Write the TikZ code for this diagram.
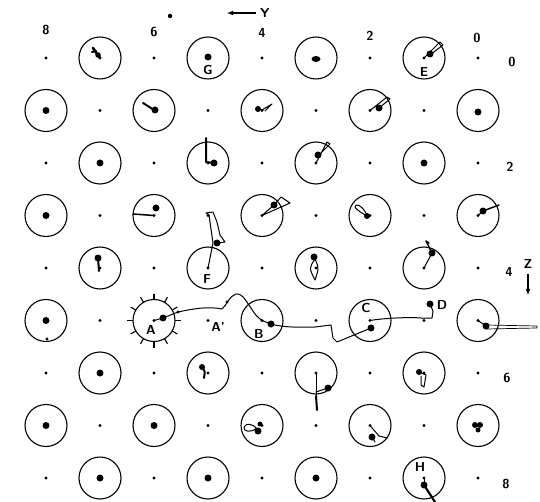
\documentclass[tikz,border=0pt]{standalone}
\usepackage{tikz}
\usetikzlibrary{arrows, positioning}
\tikzstyle{site} = [circle, draw, inner sep=0pt, minimum size=42pt, line width=1.1pt]
\tikzstyle{hole} = [circle, fill, inner sep=0pt, minimum size=3.4pt]
\tikzstyle{atom} = [circle, fill, inner sep=0pt, minimum size=7pt]
\tikzstyle{tag} = [font=\fontsize{13}{13}\selectfont\sffamily\bfseries, inner sep=0pt]
\tikzstyle{trail} = [line width=1pt, line join=round, line cap=round]
\tikzstyle{stroke} = [line width=2pt, line join=round, line cap=round]

\begin{document}
\begin{tikzpicture}
    [x=1pt, y=-1pt]
    \useasboundingbox (0,0) rectangle (540,502);

    %% Lattice
    \foreach \r in {0,...,8}
      \foreach \c in {0,...,8} {
        \pgfmathtruncatemacro{\kind}{mod(\r+\c,2)}
        \ifnum\kind=1
          \node [site] (s\r\c) at ({46+54*\c},{58+52.5*\r}) {};
          \fill (s\r\c.center) circle (1.6);
        \else
          \node [hole] (s\r\c) at ({46+54*\c},{58+52.5*\r}) {};
        \fi
      }

    %% Spikes round A
    \foreach \a in {0,30,...,330}
      \draw [line width=1.1pt] (s52.center) ++(\a:21) -- ++(\a:6);

    %% Axes
    \node [tag] (x8) at (46,30) {8};
    \node [tag] (x6) at (154,32) {6};
    \node [tag] (x4) at (262,33) {4};
    \node [tag] (x2) at (370,36) {2};
    \node [tag] (x0) at (477,38) {0};
    \node [tag] (y0) at (512,62) {0};
    \node [tag] (y2) at (510,167) {2};
    \node [tag] (y4) at (509,272) {4};
    \node [tag] (y6) at (507,378) {6};
    \node [tag] (y8) at (506,484) {8};
    \node [tag] (ylab) at (265,13) {Y};
    \coordinate (ytip) at (227,13);
    \draw [-latex, line width=1.1pt] ([xshift=-4pt]ylab.west) -- (ytip);
    \node [tag] (zlab) at (528,264) {Z};
    \coordinate (ztip) at (528,295);
    \draw [-latex, line width=1.1pt] ([yshift=-5pt]zlab.south) -- (ztip);
    \node [hole, minimum size=4.5pt] (spot) at (170,16) {};

    %% Letters
    \node [tag] (lA) at (151,330) {A};
    \node [tag] (lA2) at (218,327) {A'};
    \node [tag] (lB) at (259,334) {B};
    \node [tag] (lC) at (366,308) {C};
    \node [tag] (lD) at (442,305) {D};
    \node [tag] (lE) at (424,72) {E};
    \node [tag] (lF) at (207,279) {F};
    \node [tag] (lG) at (208,70) {G};
    \node [tag] (lH) at (420,467) {H};

    %% Long path A - B - C - D
    \draw [trail] (s52.center) -- (163,318) -- (178,312)
        .. controls (192,309) and (208,306) .. (222,309)
        .. controls (227,305) and (229,296) .. (236,294)
        .. controls (243,293) and (247,303) .. (251,308)
        .. controls (254,313) and (256,316) .. (s54.center) -- (271,324)
        .. controls (285,328) and (300,327) .. (315,327)
        -- (331,325) -- (333,338) -- (337,342) -- (371,328);
    \draw [trail] (s56.center) .. controls (385,318) and (410,317) .. (421,318)
        -- (432,318) -- (433,311) -- (430,304);
    \node [hole] (m1) at (178,312) {};
    \node [hole] (m2) at (227,302) {};

    %% Short paths
    \draw [stroke, line width=2.6pt] (93,48) -- (100,58);
    \draw [stroke] (92,52) -- (96,51);
    \draw [trail] (s07.center) -- (440,42) -- (443,45) -- (430,55);
    \draw [stroke] (143,103) -- (154,110);
    \draw [trail] (257,108) -- (262,110) -- (272,104) -- (265,111);
    \draw [trail] (s16.center) -- (387,97) -- (390,99) -- (379,108);
    \draw [stroke] (206,138) -- (206,162) -- (214,163);
    \draw [trail] (s25.center) -- (327,142) -- (330,144) -- (318,156);
    \draw [stroke, line width=1.5pt] (133,214) -- (s32.center);
    \draw [trail] (s34.center) -- (274,205) -- (281,197) -- (290,203) -- cycle;
    \draw [trail] (367,216) .. controls (360,212) and (352,207) .. (356,205)
        .. controls (360,204) and (366,211) .. (367,216);
    \draw [trail] (s38.center) -- (483,211);
    \draw [stroke, line width=1.5pt] (483,211) -- (499,205);
    \draw [stroke] (98,258) -- (99,271);
    \draw [trail] (s43.center) .. controls (210,255) .. (213,243) -- (209,215)
        -- (206,213) -- (213,212) -- (217,222) -- (220,235) -- (225,242) -- (218,243);
    \draw [trail] (315,259) .. controls (309,268) .. (315,280)
        .. controls (319,268) .. (315,259);
    \draw [trail] (s47.center) -- (432,253);
    \draw [stroke, line width=1.5pt] (432,253) -- (428,245) -- (426,241) -- (429,243);
    \draw [trail] (s58.center) -- (486,326);
    \draw [trail, line width=0.7pt] (486,325) -- (537,326) -- (537,328) -- (486,329);
    \draw [stroke] (202,367) .. controls (205,371) .. (204,378);
    \draw [trail] (s65.center) .. controls (316,385) .. (316,396);
    \draw [stroke] (316,396) -- (317,410);
    \draw [trail] (316,392) -- (328,388);
    \draw [trail] (419,372) -- (426,375) -- (424,387) -- (421,385) -- (421,376);
    \draw [trail] (257,429) .. controls (252,423) and (246,423) .. (244,427)
        .. controls (243,432) and (251,433) .. (257,428);
    \draw [trail] (s76.center) -- (379,436) -- (387,438);
    \draw [trail] (372,437) -- (375,442);
    \draw [trail] (s87.center) -- (424,485);
    \draw [stroke, line width=2.2pt] (424,485) -- (435,502);

    %% Particles
    \node [atom, minimum size=5.5pt] (a01) at (98,55) {};
    \node [atom] (a03) at (208,57) {};
    \fill (316,59) ellipse (4.5 and 3);
    \node [atom] (a07) at (430,54) {};
    \node [atom] (a10) at (s10) {};
    \node [atom] (a12) at (155,110) {};
    \node [atom, minimum size=6pt] (a14) at (258,109) {};
    \node [atom] (a16) at (379,108) {};
    \node [atom] (a18) at (478,112) {};
    \node [atom] (a21) at (s21) {};
    \node [atom] (a23) at (214,163) {};
    \node [atom] (a25) at (318,155) {};
    \node [atom] (a27) at (s27) {};
    \node [atom] (a30) at (s30) {};
    \node [atom] (a32) at (156,208) {};
    \node [atom] (a34) at (274,205) {};
    \node [atom, minimum size=6pt] (a36) at (367,216) {};
    \node [atom] (a38) at (483,211) {};
    \node [atom] (a41) at (98,258) {};
    \node [atom] (a43) at (217,243) {};
    \node [atom] (a45) at (314,257) {};
    \node [atom] (a47) at (432,253) {};
    \node [atom] (a50) at (s50) {};
    \node [hole] (b50) at (47,339) {};
    \node [atom] (a52) at (163,318) {};
    \node [atom] (a54) at (271,324) {};
    \node [atom] (a56) at (371,328) {};
    \node [atom] (a57) at (430,304) {};
    \node [atom] (a58) at (486,326) {};
    \node [atom] (a61) at (s61) {};
    \node [atom, minimum size=6pt] (a63) at (202,367) {};
    \node [atom] (a65) at (328,388) {};
    \node [atom, minimum size=6pt] (a67) at (419,372) {};
    \node [atom] (a70) at (s70) {};
    \node [atom] (a72) at (s72) {};
    \node [atom, minimum size=5pt] (a74) at (260,424) {};
    \node [atom] (a74b) at (258,431) {};
    \node [atom] (a76) at (372,437) {};
    \node [atom, minimum size=6pt] (a78) at (475,425) {};
    \node [atom, minimum size=6pt] (a78b) at (480,425) {};
    \node [atom, minimum size=5pt] (a78c) at (478,430) {};
    \node [atom] (a81) at (s81) {};
    \node [atom] (a83) at (s83) {};
    \node [atom] (a85) at (s85) {};
    \node [atom] (a87) at (424,485) {};

\end{tikzpicture}
\end{document}
